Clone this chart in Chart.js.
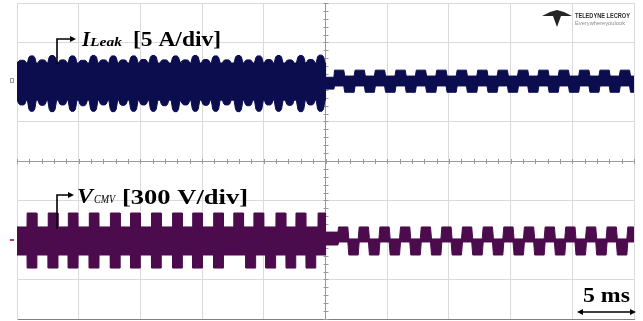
<!DOCTYPE html>
<html>
<head>
<meta charset="utf-8">
<script src="https://cdn.jsdelivr.net/npm/chart.js@4/dist/chart.umd.min.js"></script>
<style>
  html, body { margin: 0; padding: 0; background: #ffffff; }
  #scope { display: block; }
</style>
</head>
<body>
<canvas id="scope" width="643" height="321"></canvas>
<script>
// Screen: 10 horizontal divisions of 5 ms, 8 vertical divisions.
const timeTicks = [0, 5, 10, 15, 20, 25, 30, 35, 40, 45, 50];   // ms
const divTicks = [-4, -3, -2, -1, 0, 1, 2, 3, 4];
const switchTime = 25;                                            // ms, change of operating mode

// ---- Leakage current, 5 A/div (trace centred 2 div above screen centre) ----
// first half: bump centres (ms) and peak values of the envelope (A)
const leakBumpTimes = [0.4, 1.2, 2.05, 2.85, 3.7, 4.5, 5.35, 6.2, 7.0, 7.8, 8.6, 9.45, 10.25, 11.05, 11.95,
                       12.85, 13.65, 14.45, 15.3, 16.1, 17.0, 17.95, 18.75, 19.6, 20.4, 21.2, 22.1, 23.0, 23.8, 24.6];
const leakBumpTop = [2.75, 3.3, 2.8, 3.35, 2.8, 3.3, 2.75, 3.35, 2.8, 3.3, 2.8, 3.3, 2.85, 3.35, 2.8,
                     3.3, 2.8, 3.35, 2.85, 3.3, 2.8, 3.35, 2.8, 3.3, 2.85, 3.35, 2.8, 3.35, 2.85, 3.4];
const leakBumpBottom = [-2.9, -3.7, -2.95, -3.75, -2.9, -3.7, -3.0, -3.7, -2.9, -3.75, -2.95, -3.7, -2.9, -3.7, -3.0,
                        -3.75, -2.9, -3.7, -2.95, -3.7, -2.9, -3.75, -3.0, -3.7, -2.9, -3.7, -2.95, -3.75, -2.9, -3.7];
const leakValley = [2.4, -2.3];            // top / bottom of envelope between bumps (A)
// second half: start of each raised block (ms) and block levels (A)
const leakBlockStarts = [25.69, 27.36, 29.0, 30.67, 32.32, 33.98, 35.63, 37.3, 38.95, 40.6, 42.25, 43.9, 45.56, 47.2, 48.85];
const leakUpBlock = [1.5, -0.5];
const leakDownBlock = [0.75, -1.3];
const leakBridge = [0.6, -0.9];

// ---- Common-mode voltage, 300 V/div (trace centred 2 div below screen centre) ----
const cmvUpPulseStarts = [0.81, 2.52, 4.15, 5.85, 7.56, 9.19, 10.89, 12.6, 14.23, 15.93, 17.56, 19.19, 20.98, 22.6, 24.39];
const cmvDownPulseStarts = [0.81, 2.52, 4.15, 5.85, 7.56, 9.19, 10.89, 12.6, 14.23, 15.93, 18.54, 20.16, 21.79, 23.41];
const cmvPulseWidth = 0.8;                 // ms
const cmvBase = [99, -114];                // V
const cmvPulsePeak = [205, -213];          // V
const cmvBlockStarts = [26.02, 27.69, 29.37, 31.04, 32.72, 34.39, 36.06, 37.74, 39.41, 41.08, 42.76, 44.43, 46.11, 47.78, 49.46];
const cmvUpBlock = [99, -15];
const cmvDownBlock = [8, -114];
const cmvBridge = [60, -38];
const blockHalf = 0.83;                    // ms

// ---------- envelope builders ----------
function bumpEnvelope(times, peaks, valley, out) {
  out.push({ x: 0, y: valley });
  times.forEach((t, i) => {
    const h = peaks[i];
    const shoulder = valley + (h - valley) * 0.8;
    out.push({ x: t - 0.36, y: valley }, { x: t - 0.24, y: shoulder }, { x: t - 0.12, y: h },
             { x: t + 0.12, y: h }, { x: t + 0.24, y: shoulder }, { x: Math.min(t + 0.36, switchTime), y: valley });
  });
  out.push({ x: switchTime, y: valley });
  return out;
}

function pulseEnvelope(starts, base, peak, out) {
  out.push({ x: 0, y: base });
  starts.forEach(s => {
    const e = Math.min(s + cmvPulseWidth, switchTime);
    out.push({ x: s, y: base }, { x: s + 0.01, y: peak }, { x: e - 0.01, y: peak }, { x: e, y: base });
  });
  out.push({ x: switchTime, y: base });
  return out;
}

function blockEnvelope(starts, up, down, bridge, out) {
  out.push({ x: switchTime + 0.01, y: bridge }, { x: starts[0] - 0.01, y: bridge });
  starts.forEach((s, i) => {
    const next = i + 1 < starts.length ? starts[i + 1] : 50;
    const mid = Math.min(s + blockHalf, 50);
    out.push({ x: s + 0.04, y: up }, { x: mid - 0.04, y: up });
    if (mid < 50) out.push({ x: mid + 0.04, y: down }, { x: next - 0.04, y: down });
  });
  out.push({ x: 50, y: out[out.length - 1].y });
  return out;
}

const leakTop = blockEnvelope(leakBlockStarts, leakUpBlock[0], leakDownBlock[0], leakBridge[0],
                              bumpEnvelope(leakBumpTimes, leakBumpTop, leakValley[0], []));
const leakBottom = blockEnvelope(leakBlockStarts, leakUpBlock[1], leakDownBlock[1], leakBridge[1],
                                 bumpEnvelope(leakBumpTimes, leakBumpBottom, leakValley[1], []));
const cmvTop = blockEnvelope(cmvBlockStarts, cmvUpBlock[0], cmvDownBlock[0], cmvBridge[0],
                             pulseEnvelope(cmvUpPulseStarts, cmvBase[0], cmvPulsePeak[0], []));
const cmvBottom = blockEnvelope(cmvBlockStarts, cmvUpBlock[1], cmvDownBlock[1], cmvBridge[1],
                                pulseEnvelope(cmvDownPulseStarts, cmvBase[1], cmvPulsePeak[1], []));

const NAVY = '#0b0d4f';
const PLUM = '#4c0b4c';
const SERIF = '"Liberation Serif", "Times New Roman", serif';

// text squeezed/stretched to a given width
function fitText(ctx, str, x, baseline, font, width, color) {
  ctx.save();
  ctx.font = font;
  ctx.fillStyle = color || '#000';
  const w = ctx.measureText(str).width;
  ctx.translate(x, baseline);
  ctx.scale(width / w, 1);
  ctx.fillText(str, 0, 0);
  ctx.restore();
}

function arrowHead(ctx, tipX, tipY, dir) {
  ctx.beginPath();
  ctx.moveTo(tipX, tipY);
  ctx.lineTo(tipX - dir * 6, tipY - 3);
  ctx.lineTo(tipX - dir * 6, tipY + 3);
  ctx.closePath();
  ctx.fill();
}

const scopeOverlay = {
  id: 'scopeOverlay',
  beforeDatasetsDraw(chart) {
    // minor ticks on the centre cross
    const { ctx, scales: { x, y } } = chart;
    const cx = x.getPixelForValue(25), cy = y.getPixelForValue(0);
    ctx.save();
    ctx.strokeStyle = '#9a9a9a';
    ctx.lineWidth = 1;
    ctx.beginPath();
    for (let t = 0; t <= 50; t += 1) {
      const px = Math.round(x.getPixelForValue(t)) + 0.5;
      ctx.moveTo(px, cy - 2); ctx.lineTo(px, cy + 3);
    }
    for (let d = -4; d <= 4.001; d += 0.2) {
      const py = Math.round(y.getPixelForValue(d)) + 0.5;
      ctx.moveTo(cx - 2, py); ctx.lineTo(cx + 3, py);
    }
    ctx.stroke();
    ctx.restore();
  },
  afterDraw(chart) {
    const { ctx, chartArea: a } = chart;
    ctx.save();
    // channel markers at the left edge
    ctx.strokeStyle = '#9a9a9a';
    ctx.lineWidth = 1;
    ctx.strokeRect(a.left - 6.5, 78.5, 3, 4);
    ctx.fillStyle = '#b04060';
    ctx.fillRect(a.left - 7, 239, 4, 2);

    // I_Leak label with arrow
    ctx.strokeStyle = '#000';
    ctx.fillStyle = '#000';
    ctx.lineWidth = 1.6;
    ctx.beginPath();
    ctx.moveTo(57, 64); ctx.lineTo(57, 39); ctx.lineTo(70, 39);
    ctx.stroke();
    arrowHead(ctx, 76, 39, 1);
    fitText(ctx, 'I', 82, 46, 'italic bold 21px ' + SERIF, 8);
    fitText(ctx, 'Leak', 90, 46, 'italic bold 13px ' + SERIF, 32);
    fitText(ctx, '[5 A/div]', 133, 46, 'bold 20px ' + SERIF, 88);

    // V_CMV label with arrow
    ctx.beginPath();
    ctx.moveTo(57, 229); ctx.lineTo(57, 195); ctx.lineTo(68, 195);
    ctx.stroke();
    arrowHead(ctx, 74, 195, 1);
    fitText(ctx, 'V', 77, 203, 'italic bold 21px ' + SERIF, 16);
    fitText(ctx, 'CMV', 94, 203, 'italic 13px ' + SERIF, 21);
    fitText(ctx, '[300 V/div]', 122, 204, 'bold 20px ' + SERIF, 126);

    // time scale bar
    fitText(ctx, '5 ms', 583, 302, 'bold 20px ' + SERIF, 47);
    ctx.lineWidth = 1.6;
    ctx.beginPath();
    ctx.moveTo(582, 312); ctx.lineTo(631, 312);
    ctx.stroke();
    arrowHead(ctx, 577, 312, -1);
    arrowHead(ctx, 636, 312, 1);

    // instrument badge
    ctx.fillStyle = '#262626';
    ctx.beginPath();
    ctx.moveTo(542, 16); ctx.lineTo(550, 12); ctx.lineTo(557, 10); ctx.lineTo(564, 12); ctx.lineTo(572, 16);
    ctx.lineTo(561, 16); ctx.lineTo(557, 27); ctx.lineTo(553, 16);
    ctx.closePath();
    ctx.fill();
    fitText(ctx, 'TELEDYNE LECROY', 575, 18, 'bold 8px "Liberation Sans", sans-serif', 55, '#2e2e2e');
    fitText(ctx, 'Everywhereyoulook', 575, 25, '5px "Liberation Sans", sans-serif', 50, '#8a8a8a');
    ctx.restore();
  }
};

const band = (data, color, axis, fill) => ({
  data, yAxisID: axis, borderColor: color, backgroundColor: color,
  borderWidth: 1, pointRadius: 0, tension: 0, fill
});

new Chart(document.getElementById('scope'), {
  type: 'line',
  data: {
    datasets: [
      band(leakTop, NAVY, 'yI', false),
      band(leakBottom, NAVY, 'yI', '-1'),
      band(cmvTop, PLUM, 'yV', false),
      band(cmvBottom, PLUM, 'yV', '-1')
    ]
  },
  options: {
    responsive: false,
    animation: false,
    devicePixelRatio: 1,
    layout: { padding: { left: 17, right: 9, top: 3, bottom: 2 } },
    plugins: { legend: { display: false }, tooltip: { enabled: false } },
    scales: {
      x: {
        type: 'linear', min: timeTicks[0], max: timeTicks[timeTicks.length - 1],
        afterBuildTicks: s => { s.ticks = timeTicks.map(v => ({ value: v })); },
        ticks: { display: false },
        grid: { drawTicks: false, color: c => (c.tick && c.tick.value === switchTime ? '#9a9a9a' : '#dadada') },
        border: { color: '#808080' }
      },
      y: {
        min: divTicks[0], max: divTicks[divTicks.length - 1],
        afterBuildTicks: s => { s.ticks = divTicks.map(v => ({ value: v })); },
        ticks: { display: false },
        grid: { drawTicks: false, color: c => (c.tick && c.tick.value === 0 ? '#9a9a9a' : '#dadada') },
        border: { color: '#dadada' }
      },
      yI: { display: false, min: -30, max: 10 },
      yV: { display: false, min: -600, max: 1800 }
    }
  },
  plugins: [scopeOverlay]
});
</script>
</body>
</html>
